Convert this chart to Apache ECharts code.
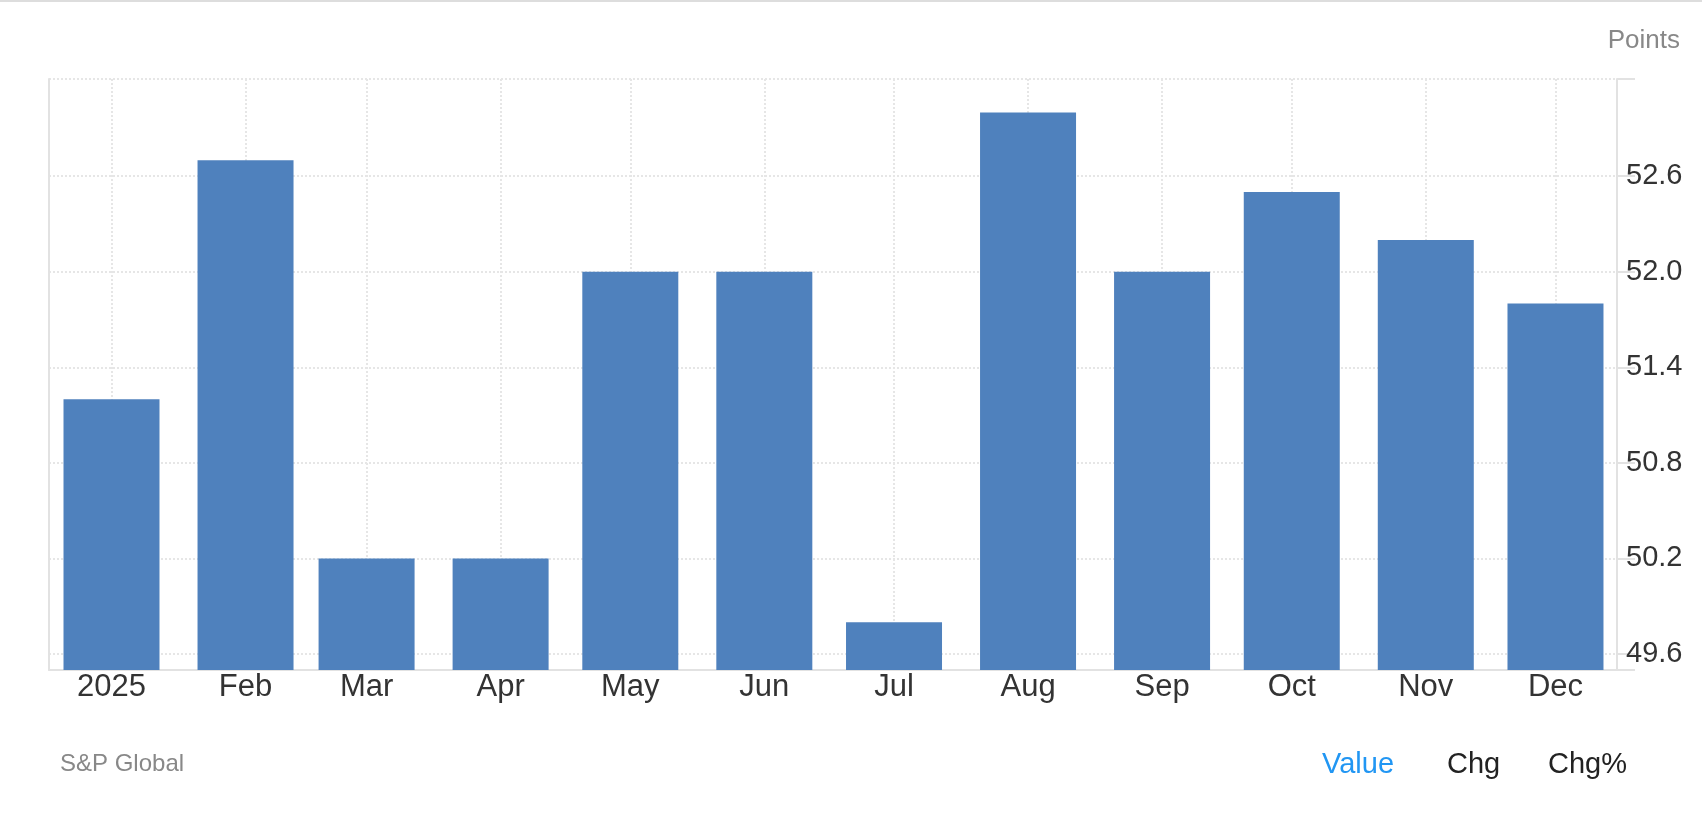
<!DOCTYPE html>
<html>
<head>
<meta charset="utf-8">
<script src="https://cdn.jsdelivr.net/npm/echarts@6/dist/echarts.min.js"></script>
<style>
  html, body { margin: 0; padding: 0; background: #fff; }
  #chart { width: 1708px; height: 820px; }
</style>
</head>
<body>
<div id="chart"></div>
<script>
// ---- data ----
const categories = ['2025', 'Feb', 'Mar', 'Apr', 'May', 'Jun', 'Jul', 'Aug', 'Sep', 'Oct', 'Nov', 'Dec'];
const months = [0, 1, 2, 3, 4, 5, 6, 7, 8, 9, 10, 11];
const year = 2025;
const values = [51.2, 52.7, 50.2, 50.2, 52.0, 52.0, 49.8, 53.0, 52.0, 52.5, 52.2, 51.8];
const yTickLabels = [49.6, 50.2, 50.8, 51.4, 52.0, 52.6];
const yTicks = [49.5, 49.6, 50.2, 50.8, 51.4, 52.0, 52.6, 53.21];
const yMin = 49.5;
const yMax = 53.21;
const unitLabel = 'Points';
const sourceLabel = 'S&P Global';
const toggles = ['Value', 'Chg', 'Chg%'];

// ---- build ----
const dates = months.map(m => Date.UTC(year, m, 1));
const seriesData = dates.map((d, i) => [d, values[i]]);
const xMin = Date.UTC(2024, 11, 17, 13);
const xMax = Date.UTC(2025, 11, 15, 5, 30);

const fontFam = '"Liberation Sans", Arial, Helvetica, sans-serif';
const gridColor = '#e6e6e6';
const axisColor = '#e2e2e2';

const chart = echarts.init(document.getElementById('chart'), null, { renderer: 'canvas' });
chart.setOption({
  animation: false,
  backgroundColor: '#ffffff',
  grid: { left: 49, right: 91, top: 79, bottom: 150, containLabel: false },
  xAxis: {
    type: 'value',
    min: xMin,
    max: xMax,
    scale: true,
    axisLine: { show: true, onZero: false, lineStyle: { color: axisColor, width: 2 } },
    axisTick: { show: false, customValues: dates },
    axisLabel: {
      customValues: dates,
      color: '#333333',
      fontSize: 31,
      fontFamily: fontFam,
      margin: 2,
      formatter: function (v) {
        const idx = dates.indexOf(v);
        return idx >= 0 ? categories[idx] : '';
      }
    },
    splitLine: { show: true, lineStyle: { color: gridColor, width: 2, type: [2, 2] } }
  },
  yAxis: [
    {
      type: 'value',
      position: 'right',
      min: yMin,
      max: yMax,
      axisLine: { show: true, lineStyle: { color: axisColor, width: 2 } },
      axisTick: { show: true, length: 18, customValues: yTicks, lineStyle: { color: axisColor, width: 2 } },
      axisLabel: {
        customValues: yTickLabels,
        color: '#333333',
        fontSize: 29,
        fontFamily: fontFam,
        margin: 9,
        formatter: v => Number(v).toFixed(1)
      },
      splitLine: { show: true, lineStyle: { color: gridColor, width: 2, type: [2, 2] } }
    },
    {
      type: 'value',
      position: 'left',
      min: yMin,
      max: yMax,
      axisLine: { show: true, lineStyle: { color: axisColor, width: 2 } },
      axisTick: { show: false },
      axisLabel: { show: false },
      splitLine: { show: false }
    }
  ],
  series: [{
    type: 'bar',
    yAxisIndex: 0,
    data: seriesData,
    barWidth: 96,
    itemStyle: { color: '#4f81bd' },
    z: 3
  }],
  graphic: [
    { type: 'rect', shape: { x: 0, y: 0, width: 1702, height: 2 }, style: { fill: '#dddddd' }, silent: true },
    { type: 'text', right: 28, top: 28, style: { text: unitLabel, fill: '#888888', fontSize: 26, fontFamily: fontFam } },
    { type: 'text', left: 60, top: 752, style: { text: sourceLabel, fill: '#888888', fontSize: 24, fontFamily: fontFam } },
    { type: 'text', left: 1322, top: 750, style: { text: toggles[0], fill: '#2196f3', fontSize: 29, fontFamily: fontFam } },
    { type: 'text', left: 1447, top: 750, style: { text: toggles[1], fill: '#222222', fontSize: 29, fontFamily: fontFam } },
    { type: 'text', left: 1548, top: 750, style: { text: toggles[2], fill: '#222222', fontSize: 29, fontFamily: fontFam } }
  ]
});
</script>
</body>
</html>
